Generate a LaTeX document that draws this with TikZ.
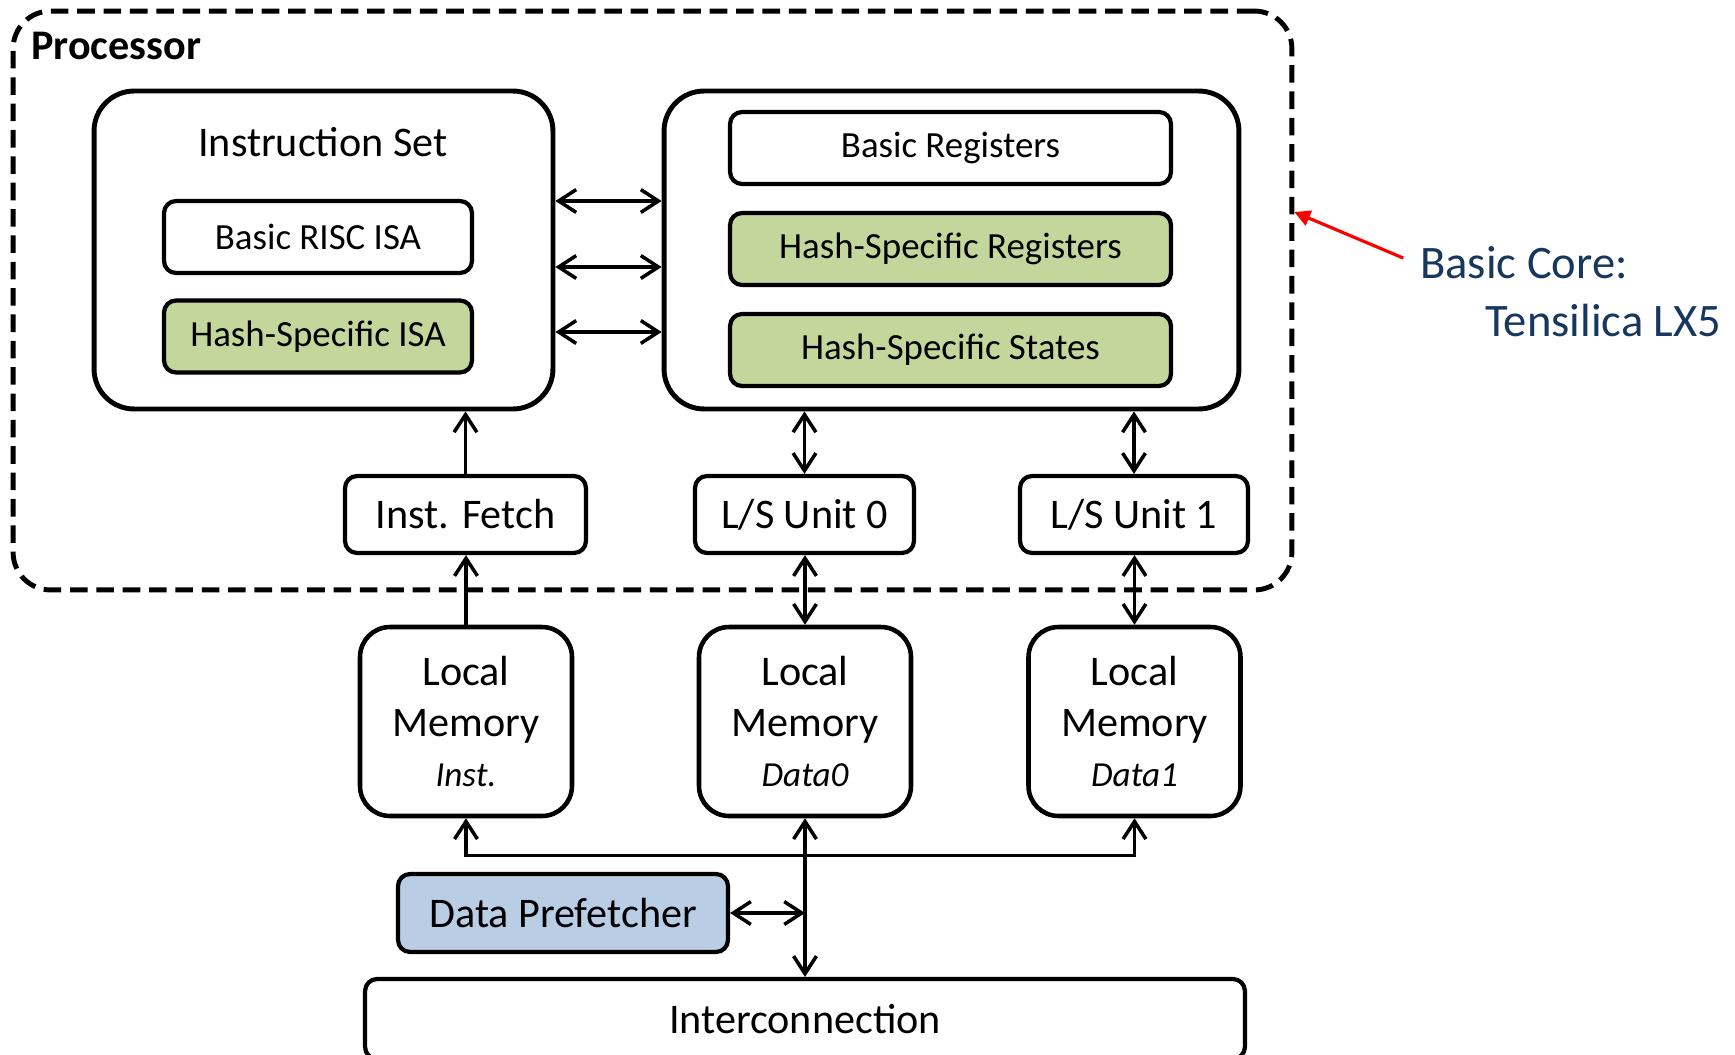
\documentclass[tikz,border=0pt]{standalone}
\usepackage{fontspec}
\setmainfont{Carlito}
\usepackage{tikz}
\usetikzlibrary{arrows,arrows.meta,shapes,positioning,calc}
\definecolor{hashgreen}{HTML}{C3D69B}
\definecolor{prefblue}{HTML}{B9CDE5}
\definecolor{corenavy}{HTML}{17375E}

\begin{document}
\begin{tikzpicture}[x=0.02cm, y=-0.02cm]

  \newcommand{\lmem}[1]{Local\\Memory\\{\fontsize{20}{24}\selectfont\itshape #1}}
  \tikzset{ProcStyle/.style =
    {draw, line width=2.8pt, dash pattern=on 10pt off 5pt,
     rounded corners=0.75cm}}
  \tikzset{OuterStyle/.style =
    {draw, line width=2.8pt, rounded corners=0.8cm,
     minimum height=6.36cm}}
  \tikzset{InnerStyle/.style =
    {draw, line width=2.4pt, rounded corners=0.24cm,
     minimum height=1.44cm, font=\fontsize{21}{25}\selectfont}}
  \tikzset{UnitStyle/.style =
    {draw, line width=2.4pt, rounded corners=0.24cm,
     minimum height=1.54cm, font=\fontsize{24}{28}\selectfont}}
  \tikzset{MemStyle/.style =
    {draw, line width=2.6pt, rounded corners=0.6cm, align=center,
     minimum width=4.24cm, minimum height=3.78cm,
     font=\fontsize{24}{28.5}\selectfont}}
  \tikzset{EdgeStyle/.style =
    {line width=2pt, {Straight Barb[length=10pt,width=13pt]}-{Straight Barb[length=10pt,width=13pt]}}}
  \tikzset{UpStyle/.style =
    {line width=2pt, -{Straight Barb[length=10pt,width=13pt]}}}
  \useasboundingbox (0,0) rectangle (1735,1055);

  % processor boundary
  \node[ProcStyle, minimum width=25.58cm, minimum height=11.58cm] (proc) at (652.5,300.5) {};
  \node[anchor=west, inner sep=0pt, font=\fontsize{24}{28}\selectfont\bfseries] (proclabel) at (31,46) {Processor};

  % instruction set
  \node[OuterStyle, minimum width=9.18cm] (isa) at (323.5,250) {};
  \node[font=\fontsize{24}{28}\selectfont] (isatitle) at (323,142) {Instruction Set};
  \node[InnerStyle, minimum width=6.16cm] (risc) at (318,237) {Basic RISC ISA};
  \node[InnerStyle, minimum width=6.16cm, fill=hashgreen] (hisa) at (318,336.5) {Hash-Specific ISA};

  % register file
  \node[OuterStyle, minimum width=11.5cm] (regs) at (951.5,250) {};
  \node[InnerStyle, minimum width=8.82cm] (breg) at (950.5,148) {Basic Registers};
  \node[InnerStyle, minimum width=8.82cm, fill=hashgreen] (hreg) at (950.5,249) {Hash-Specific Registers};
  \node[InnerStyle, minimum width=8.82cm, fill=hashgreen] (hstate) at (950.5,350) {Hash-Specific States};

  \foreach \dy in {-49,17,82}
    \draw[EdgeStyle] ($(isa.east)+(0,\dy)$) -- ($(regs.west)+(0,\dy)$);

  % fetch and load/store units
  \node[UnitStyle, minimum width=4.82cm] (fetch) at (465.5,514.5) {Inst. Fetch};
  \node[UnitStyle, minimum width=4.38cm] (ls0) at (804.5,514.5) {L/S Unit 0};
  \node[UnitStyle, minimum width=4.56cm] (ls1) at (1134,514.5) {L/S Unit 1};

  \draw[UpStyle] (fetch.north) -- (fetch.north |- isa.south);
  \draw[EdgeStyle] (ls0.north) -- (ls0.north |- regs.south);
  \draw[EdgeStyle] (ls1.north) -- (ls1.north |- regs.south);

  % local memories
  \node[MemStyle] (memi) at (466,721.5) {\lmem{Inst.}};
  \node[MemStyle] (mem0) at (805,721.5) {\lmem{Data0}};
  \node[MemStyle] (mem1) at (1134.5,721.5) {\lmem{Data1}};

  \draw[UpStyle] (memi.north) -- (memi.north |- fetch.south);
  \draw[EdgeStyle] (mem0.north) -- (mem0.north |- ls0.south);
  \draw[EdgeStyle] (mem1.north) -- (mem1.north |- ls1.south);

  % bus, prefetcher, interconnect
  \node[UnitStyle, minimum width=6.6cm, minimum height=1.56cm, fill=prefblue] (pref) at (563,913) {Data Prefetcher};
  \node[UnitStyle, minimum width=17.6cm, minimum height=1.6cm] (inter) at (805,1019) {Interconnection};

  \draw[EdgeStyle] (memi.south) |- ($(mem0.south)+(0,37)$) -| (mem1.south);
  \draw[EdgeStyle] (mem0.south) -- (mem0.south |- inter.north);
  \draw[EdgeStyle] (pref.east) -- (pref.east -| mem0.south);

  % core annotation
  \node[anchor=west, inner sep=0pt, text=corenavy, font=\fontsize{26.5}{30}\selectfont] (core) at (1420,263) {Basic Core:};
  \node[anchor=west, inner sep=0pt, text=corenavy, font=\fontsize{26.5}{30}\selectfont] (lx5) at (1485,321) {Tensilica LX5};
  \draw[red, line width=1.8pt, -{Triangle[length=9pt,width=9pt]}]
    ([xshift=-9.5pt,yshift=2.8pt]core.west) -- ($(proc.east)+(0,-88.5)$);

\end{tikzpicture}
\end{document}
